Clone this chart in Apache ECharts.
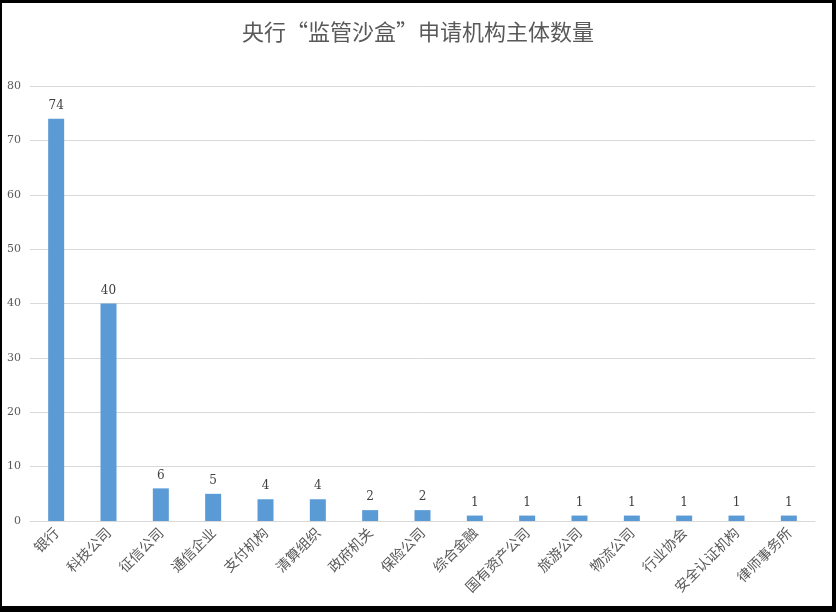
<!DOCTYPE html>
<html><head><meta charset="utf-8">
<script src="https://cdn.jsdelivr.net/npm/echarts@6/dist/echarts.min.js"></script>
<style>
html,body{margin:0;padding:0;background:#000;width:836px;height:612px;overflow:hidden}
#frame{position:absolute;left:2px;top:3px;width:830px;height:603px;background:#fff}
#chart{position:absolute;left:0;top:0;width:836px;height:612px}
</style></head>
<body><div id="frame"></div><div id="chart"></div>
<script>
const categories = ['银行','科技公司','征信公司','通信企业','支付机构','清算组织','政府机关','保险公司','综合金融','国有资产公司','旅游公司','物流公司','行业协会','安全认证机构','律师事务所'];
const counts = [74,40,6,5,4,4,2,2,1,1,1,1,1,1,1];
const yTicks = [0,10,20,30,40,50,60,70,80];

const chart = echarts.init(document.getElementById('chart'), null, {renderer:'canvas'});
chart.setOption({
  backgroundColor:'transparent',
  animation:false,
  title:{text:'央行“监管沙盒”申请机构主体数量',left:'center',top:16,
    textStyle:{fontFamily:'Noto Sans CJK SC',fontSize:22,fontWeight:'normal',color:'#595959'}},
  grid:{left:30,right:21,top:86,bottom:91,containLabel:false},
  xAxis:{type:'category',data:categories,
    axisLine:{lineStyle:{color:'#d9d9d9'}},axisTick:{show:false},
    axisLabel:{rotate:45,interval:0,color:'#595959',fontSize:14,fontFamily:'Noto Sans CJK SC',margin:9}},
  yAxis:{type:'value',min:yTicks[0],max:yTicks[yTicks.length-1],interval:10,
    axisLine:{show:false},axisTick:{show:false},
    splitLine:{lineStyle:{color:'#d9d9d9'}},
    axisLabel:{color:'#595959',fontSize:11,fontFamily:'DejaVu Serif',margin:9}},
  series:[{type:'bar',data:counts,barWidth:16,
    itemStyle:{color:'#5b9bd5'},
    label:{show:true,position:'top',color:'#404040',fontSize:12,fontFamily:'DejaVu Serif',distance:7}}]
});
</script></body></html>
